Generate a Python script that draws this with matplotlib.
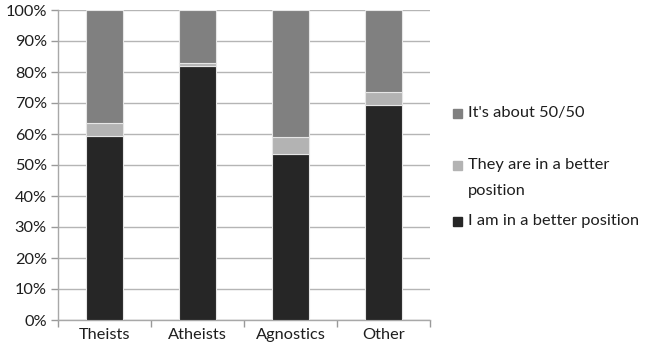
import matplotlib.pyplot as plt
from matplotlib.patches import Rectangle
from matplotlib.ticker import PercentFormatter, FixedLocator
import numpy as np

# survey shares per group (percent)
groups = ['Theists', 'Atheists', 'Agnostics', 'Other']
me_better = [59.5, 82.0, 53.5, 69.5]
they_better = [4.0, 1.0, 5.5, 4.0]
fifty_fifty = [36.5, 17.0, 41.0, 26.5]

series = [
    ('I am in a better position', me_better, '#262626'),
    ('They are in a better\nposition', they_better, '#b3b3b3'),
    ("It's about 50/50", fifty_fifty, '#808080'),
]

plt.rcParams['font.family'] = ['Lato', 'DejaVu Sans']
FS = 11.8
TXT = '#1e1e1e'

fig = plt.figure(figsize=(6.5, 3.47), dpi=100)
W, H = 650, 347
ax = fig.add_axes([58 / W, 1 - 320 / H, (430 - 58) / W, 310 / H])

x = np.arange(len(groups))
bottom = np.zeros(len(groups))
for name, vals, col in series:
    ax.bar(x, vals, width=0.39, bottom=bottom, color=col,
           edgecolor='#e6e6e6', linewidth=0.8, zorder=3)
    bottom += np.array(vals)

ax.set_xlim(-0.5, len(groups) - 0.5)
ax.set_ylim(0, 100)
ax.set_yticks(np.arange(0, 101, 10))
ax.yaxis.set_major_formatter(PercentFormatter(decimals=0))
ax.grid(axis='y', color='#b5b5b5', linewidth=1.0, zorder=0)

ax.set_xticks(x)
ax.set_xticklabels(groups)
ax.xaxis.set_minor_locator(FixedLocator(np.arange(-0.5, len(groups), 1.0)))
ax.tick_params(axis='x', which='major', length=0, pad=6, labelsize=FS, colors=TXT)
ax.tick_params(axis='x', which='minor', length=5, color='#999999', width=1)
ax.tick_params(axis='y', length=5, color='#999999', width=1, labelsize=FS, colors=TXT, pad=3)

for s in ['top', 'right']:
    ax.spines[s].set_visible(False)
for s in ['left', 'bottom']:
    ax.spines[s].set_color('#a8a8a8')
    ax.spines[s].set_linewidth(1.0)

# legend drawn by hand: square + text lines, top entry is the top stack segment
legend_rows = [(series[2], 113), (series[1], 165), (series[0], 221)]
for (name, vals, col), ypix in legend_rows:
    fig.patches.append(Rectangle((453 / W, 1 - (ypix + 4.5) / H), 9 / W, 9 / H,
                                 transform=fig.transFigure, color=col))
    for i, line in enumerate(name.split('\n')):
        fig.text(468 / W, 1 - (ypix + 26 * i) / H, line, fontsize=FS, color=TXT,
                 va='center', ha='left')

fig.savefig('out.png', dpi=100)
